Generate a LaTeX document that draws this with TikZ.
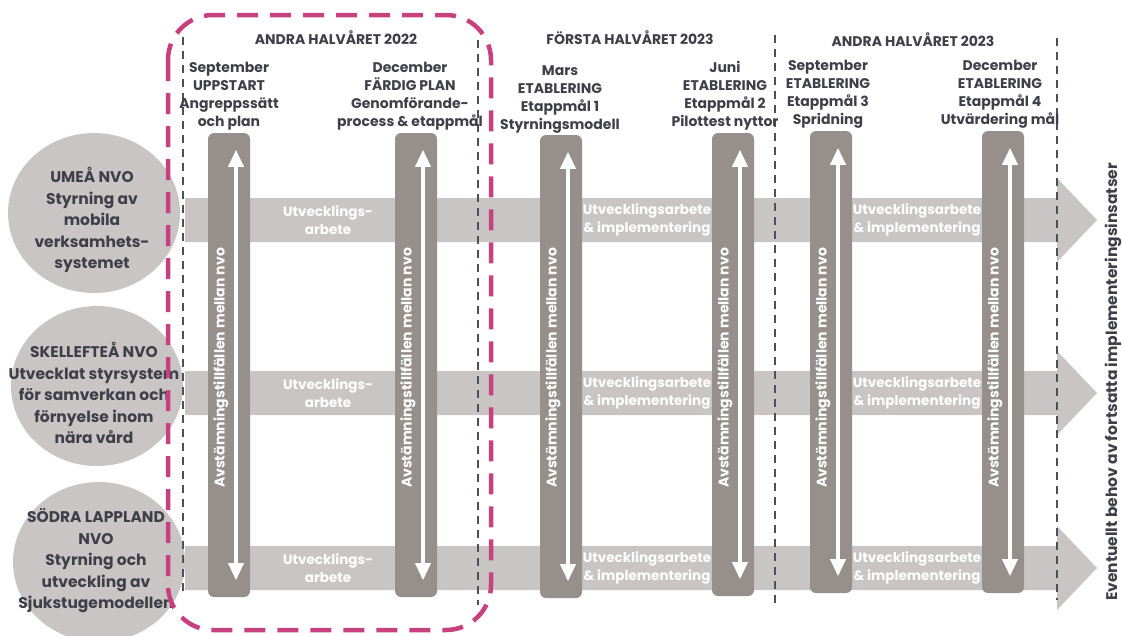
\documentclass[tikz,border=0pt]{standalone}
\usepackage{fontspec}
\setmainfont{Poppins}
\usetikzlibrary{arrows.meta,shapes.geometric}
\definecolor{txtdark}{HTML}{3F3F4A}
\definecolor{bargray}{HTML}{968F8C}
\definecolor{bandgray}{HTML}{C9C5C4}
\definecolor{linegray}{HTML}{4B5059}
\definecolor{frameclr}{HTML}{C8417F}
\tikzset{nvo/.style = {ellipse, fill=bandgray, inner sep=0, minimum width=172, minimum height=160}}
\tikzset{nvotxt/.style = {align=center, inner sep=0, text=txtdark, font=\bfseries\fontsize{15.5}{21.5}\selectfont}}
\tikzset{bar/.style = {rectangle, rounded corners=6, fill=bargray, minimum width=42, inner sep=0}}
\tikzset{wharrow/.style = {white, line width=3.5, {Triangle[width=15,length=17]}-{Triangle[width=15,length=17]}}}
\tikzset{bartxt/.style = {rotate=90, text=white, inner sep=0, font=\bfseries\fontsize{14}{16}\selectfont}}
\tikzset{bandtxt/.style = {align=center, text=white, inner sep=0, font=\bfseries\fontsize{13.5}{18}\selectfont}}
\tikzset{lbl/.style = {align=center, inner sep=0, text=txtdark, font=\bfseries\fontsize{14}{18}\selectfont}}
\tikzset{hdr/.style = {inner sep=0, text=txtdark, font=\bfseries\fontsize{14}{16}\selectfont}}
\tikzset{vline/.style = {linegray, line width=2.5, dash pattern=on 8 off 6}}

\begin{document}
\begin{tikzpicture}[x=1pt, y=-1pt]
    \useasboundingbox (0,0) rectangle (1122,635);
    % NVO circles
    \node [nvo] (umea) at (94,213) {};
    \node [nvo] (skel) at (97,386) {};
    \node [nvo] (lapp) at (99,562) {};
    \node [nvotxt] (umeatxt) at (92,220) {UMEÅ NVO\\Styrning av\\mobila\\verksamhets-\\systemet};
    \node [nvotxt] (skeltxt) at (94,393) {SKELLEFTEÅ NVO\\Utvecklat styrsystem\\för samverkan och\\förnyelse inom\\nära vård};
    \node [nvotxt] (lapptxt) at (96,561) {SÖDRA LAPPLAND\\NVO\\Styrning och\\utveckling av\\Sjukstugemodellen};
    % bands
    \foreach \c/\n in {220/a, 393/b, 568/c} {
      \fill [bandgray] (185,\c-22) -- (1057,\c-22) -- (1057,\c-42) -- (1097,\c) -- (1057,\c+42) -- (1057,\c+22) -- (185,\c+22) -- cycle;
      \node [bandtxt] (utv\n) at (328,\c) {Utvecklings-\\arbete};
      \node [bandtxt] (impl\n) at (647,\c) {Utvecklingsarbete\\\& implementering};
      \node [bandtxt] (implb\n) at (917,\c) {Utvecklingsarbete\\\& implementering};
    }
    % bars
    \foreach \x/\t/\b [count=\i] in {229/133/597, 416/133/597, 561/135/598, 733/133/596, 831/131/593, 1003/131/593} {
      \node [bar, minimum height={\b-\t}] (bar\i) at (\x,{(\t+\b)/2}) {};
      \draw [wharrow] ([xshift=7, yshift=-17]bar\i.north) -- ([xshift=7, yshift=17]bar\i.south);
      \node [bartxt] (avst\i) at ([xshift=-8]bar\i.center |- 0,368) {Avstämningstillfällen mellan nvo};
    }
    % dashed separators
    \draw [vline] (183,37) -- (183,595);
    \draw [vline] (478,40) -- (478,605);
    \draw [vline] (775,35) -- (775,607);
    \draw [vline] (1057,38) -- (1057,600);
    \draw [frameclr, line width=4.5, dash pattern=on 21 off 12, rounded corners=45] (168,15) rectangle (491,630);
    % headers
    \node [hdr] (h22) at (336,38) {ANDRA HALVÅRET 2022};
    \node [hdr] (h23a) at (630,38) {FÖRSTA HALVÅRET 2023};
    \node [hdr] (h23b) at (913,40) {ANDRA HALVÅRET 2023};
    % milestones
    \node [lbl] (m1) at (229,96.5) {September\\UPPSTART\\Angreppssätt\\och plan};
    \node [lbl] (m2) at (410,96.5) {December\\FÄRDIG PLAN\\Genomförande-\\process \& etappmål};
    \node [lbl] (m3) at (560,99.5) {Mars\\ETABLERING\\Etappmål 1\\Styrningsmodell};
    \node [lbl] (m4) at (725,95.5) {Juni\\ETABLERING\\Etappmål 2\\Pilottest nyttor};
    \node [lbl] (m5) at (828,94.5) {September\\ETABLERING\\Etappmål 3\\Spridning};
    \node [lbl] (m6) at (1000,94.5) {December\\ETABLERING\\Etappmål 4\\Utvärdering mål};
    \node [hdr, rotate=90, font=\bfseries\fontsize{15.5}{18}\selectfont] (behov) at (1113,382) {Eventuellt behov av fortsatta implementeringsinsatser};
  \end{tikzpicture}
\end{document}
